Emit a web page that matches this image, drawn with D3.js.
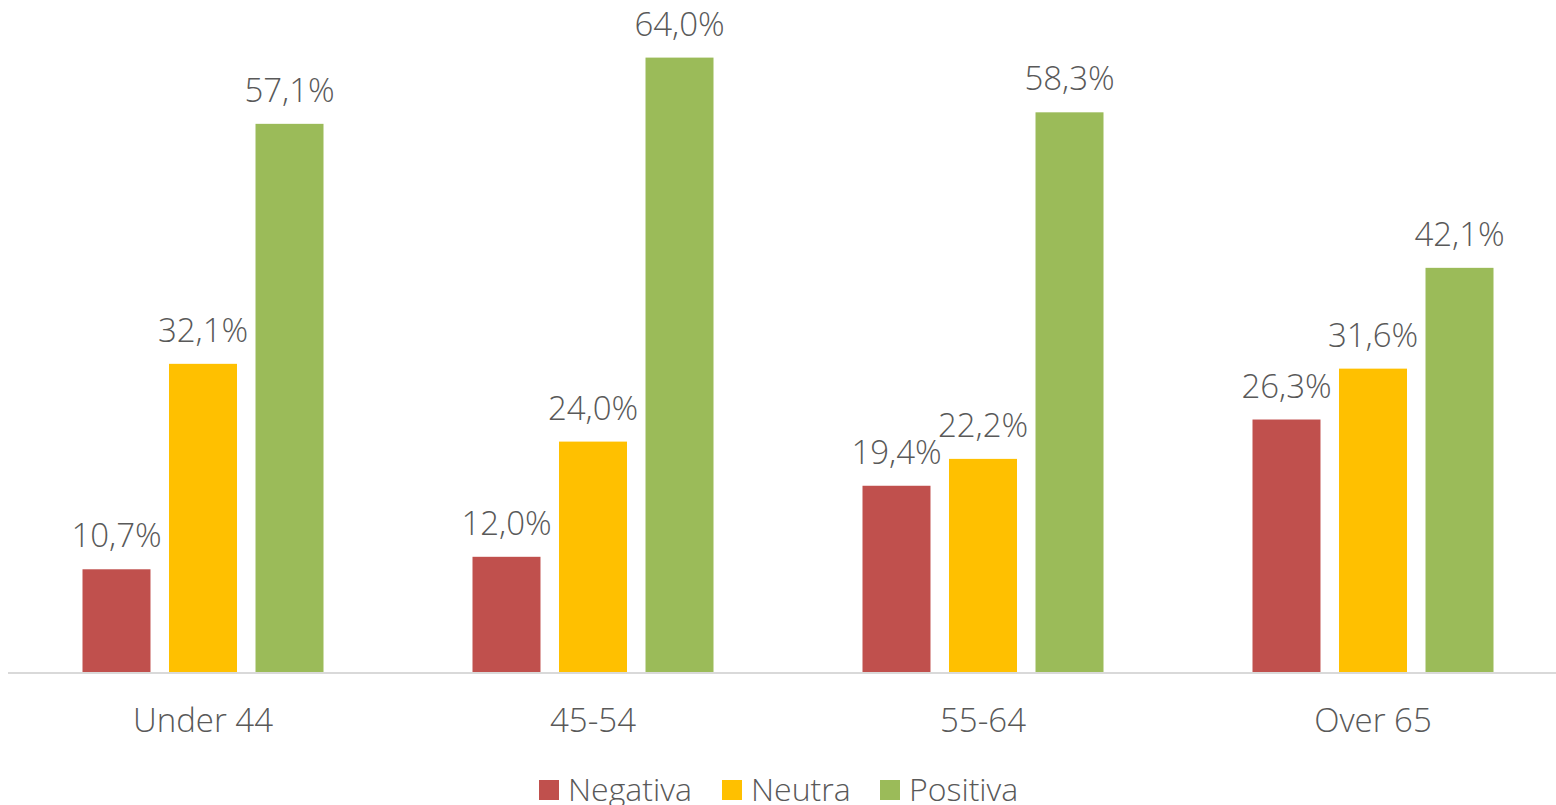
<!DOCTYPE html>
<html>
<head>
<meta charset="utf-8">
<script src="https://cdn.jsdelivr.net/npm/d3@7"></script>
<style>
  html, body { margin: 0; padding: 0; background: #fff; overflow: hidden; }
  svg text { font-family: "Open Sans", "Segoe UI", sans-serif; font-weight: 300; fill: #595959; }
</style>
</head>
<body>
<svg id="chart" width="1556" height="805"></svg>
<script>
// data
const categories = ['Under 44', '45-54', '55-64', 'Over 65'];
const seriesNames = ['Negativa', 'Neutra', 'Positiva'];
const negativa = [10.7, 12.0, 19.4, 26.3];
const neutra = [32.1, 24.0, 22.2, 31.6];
const positiva = [57.1, 64.0, 58.3, 42.1];
const colors = ['#c0504d', '#ffc000', '#9bbb59'];

const series = [negativa, neutra, positiva];

const svg = d3.select('#chart');
const baseY = 672;

const x = d3.scaleBand().domain(categories).range([8, 1568]);
const inner = d3.scaleBand().domain(seriesNames).range([0, 241]).paddingInner(0.214);
const y = d3.scaleLinear().domain([0, 70]).range([baseY, 0]);

// axis line
svg.append('line')
  .attr('x1', 8).attr('x2', 1556)
  .attr('y1', baseY + 1).attr('y2', baseY + 1)
  .attr('stroke', '#d9d9d9').attr('stroke-width', 2);

const groups = svg.selectAll('g.cat')
  .data(categories)
  .enter().append('g')
  .attr('class', 'cat')
  .attr('transform', d => `translate(${x(d) + x.bandwidth() / 2 - 120.5},0)`);

seriesNames.forEach((name, si) => {
  groups.append('rect')
    .attr('x', inner(name))
    .attr('width', inner.bandwidth())
    .attr('y', (d, i) => y(series[si][i]))
    .attr('height', (d, i) => baseY - y(series[si][i]))
    .attr('fill', colors[si]);

  groups.append('text')
    .attr('x', inner(name) + inner.bandwidth() / 2)
    .attr('y', (d, i) => y(series[si][i]) - 22)
    .attr('text-anchor', 'middle')
    .style('font-size', '33px')
    .text((d, i) => series[si][i].toFixed(1).replace('.', ',') + '%');
});

// category labels
svg.selectAll('text.cat-label')
  .data(categories)
  .enter().append('text')
  .attr('class', 'cat-label')
  .attr('x', d => x(d) + x.bandwidth() / 2)
  .attr('y', 732)
  .attr('text-anchor', 'middle')
  .style('font-size', '33px')
  .text(d => d);

// legend
const legendX = [539, 722, 880];
const legend = svg.selectAll('g.legend')
  .data(seriesNames)
  .enter().append('g')
  .attr('class', 'legend')
  .attr('transform', (d, i) => `translate(${legendX[i]},0)`);

legend.append('rect')
  .attr('x', 0).attr('y', 780)
  .attr('width', 20).attr('height', 20)
  .attr('fill', (d, i) => colors[i]);

legend.append('text')
  .attr('x', 29).attr('y', 801)
  .style('font-size', '32px')
  .text(d => d);
</script>
</body>
</html>
